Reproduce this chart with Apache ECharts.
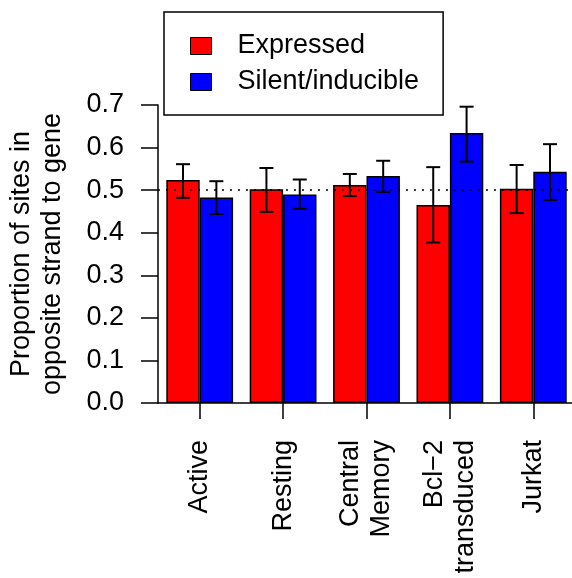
<!DOCTYPE html>
<html>
<head>
<meta charset="utf-8">
<script src="https://cdn.jsdelivr.net/npm/echarts@6/dist/echarts.min.js"></script>
<style>
html,body{margin:0;padding:0;background:#fff;}
#chart{width:572px;height:578px;}
</style>
</head>
<body>
<div id="chart"></div>
<script>
var categories = ['Active', 'Resting', 'Central\nMemory', 'Bcl\u22122\ntransduced', 'Jurkat'];
var seriesNames = ['Expressed', 'Silent/inducible'];
var expressed = [0.524, 0.502, 0.512, 0.465, 0.503];
var expressedLow = [0.482, 0.449, 0.486, 0.377, 0.446];
var expressedHigh = [0.561, 0.552, 0.538, 0.554, 0.559];
var silent = [0.483, 0.490, 0.533, 0.634, 0.543];
var silentLow = [0.444, 0.456, 0.496, 0.567, 0.477];
var silentHigh = [0.521, 0.525, 0.569, 0.696, 0.608];
var yTicks = [0, 0.1, 0.2, 0.3, 0.4, 0.5, 0.6, 0.7];
var refLine = 0.5;

var FONT = "'Liberation Sans', Arial, Helvetica, sans-serif";
var chart = echarts.init(document.getElementById('chart'), null, {renderer: 'canvas'});

function errData(low, high) {
  return low.map(function (l, i) { return [i, l, high[i]]; });
}
function errSeries(low, high, side) {
  return {
    type: 'custom',
    silent: true,
    z: 5,
    data: errData(low, high),
    renderItem: function (params, api) {
      var band = api.size([1, 0])[0];
      var off = side * band * 0.2;
      var p1 = api.coord([api.value(0), api.value(1)]);
      var p2 = api.coord([api.value(0), api.value(2)]);
      var x = p1[0] + off;
      var cap = 7;
      var st = {stroke: '#000', lineWidth: 2, fill: null};
      return {
        type: 'group',
        children: [
          {type: 'line', shape: {x1: x, y1: p1[1], x2: x, y2: p2[1]}, style: st},
          {type: 'line', shape: {x1: x - cap, y1: p1[1], x2: x + cap, y2: p1[1]}, style: st},
          {type: 'line', shape: {x1: x - cap, y1: p2[1], x2: x + cap, y2: p2[1]}, style: st}
        ]
      };
    }
  };
}

var option = {
  animation: false,
  backgroundColor: '#fff',
  textStyle: {fontFamily: FONT},
  grid: {left: 158, right: -3, top: 105, bottom: 175, containLabel: false, outerBoundsMode: 'none'},
  legend: {
    orient: 'vertical',
    left: 164,
    top: 12,
    data: seriesNames,
    borderColor: '#000',
    borderWidth: 1.5,
    borderRadius: 0,
    padding: [18, 24, 17, 26],
    itemGap: 4,
    itemWidth: 21,
    itemHeight: 17,
    icon: 'rect',
    itemStyle: {borderColor: '#000', borderWidth: 1},
    textStyle: {fontSize: 27, color: '#000', fontFamily: FONT, lineHeight: 32, padding: [0, 0, 0, 21]}
  },
  xAxis: {
    type: 'category',
    data: categories,
    axisLine: {show: true, lineStyle: {color: '#000', width: 1.5}},
    axisTick: {show: true, alignWithLabel: true, length: 16, lineStyle: {color: '#000', width: 1.5}},
    axisLabel: {rotate: 90, margin: 37, fontSize: 27, color: '#000', fontFamily: FONT, lineHeight: 31, interval: 0, align: 'right'},
    splitLine: {show: false}
  },
  yAxis: {
    type: 'value',
    min: 0,
    max: 0.7,
    interval: 0.1,
    name: 'Proportion of sites in\nopposite strand to gene',
    nameLocation: 'middle',
    nameRotate: 90,
    nameGap: 90,
    nameTextStyle: {fontSize: 27, color: '#000', fontFamily: FONT, lineHeight: 31},
    axisLine: {show: true, lineStyle: {color: '#000', width: 1.5}},
    axisTick: {show: true, length: 17, lineStyle: {color: '#000', width: 1.5}},
    axisLabel: {
      margin: 34, fontSize: 27, color: '#000', fontFamily: FONT,
      formatter: function (v) {
        var t = yTicks.filter(function (y) { return Math.abs(y - v) < 1e-9; });
        return t.length ? t[0].toFixed(1) : '';
      }
    },
    splitLine: {show: false}
  },
  series: [
    {
      name: seriesNames[0],
      type: 'bar',
      data: expressed,
      barWidth: 33.4,
      barGap: '0%',
      itemStyle: {color: '#FF0000', borderColor: '#000', borderWidth: 1.5},
      markLine: {
        silent: true,
        symbol: 'none',
        label: {show: false},
        lineStyle: {color: '#000', type: [2, 6], width: 1.5},
        data: [{yAxis: refLine}]
      },
      z: 2
    },
    {
      name: seriesNames[1],
      type: 'bar',
      data: silent,
      barWidth: 33.4,
      barGap: '0%',
      itemStyle: {color: '#0000FF', borderColor: '#000', borderWidth: 1.5},
      z: 2
    },
    errSeries(expressedLow, expressedHigh, -1),
    errSeries(silentLow, silentHigh, 1)
  ]
};
chart.setOption(option);
</script>
</body>
</html>
